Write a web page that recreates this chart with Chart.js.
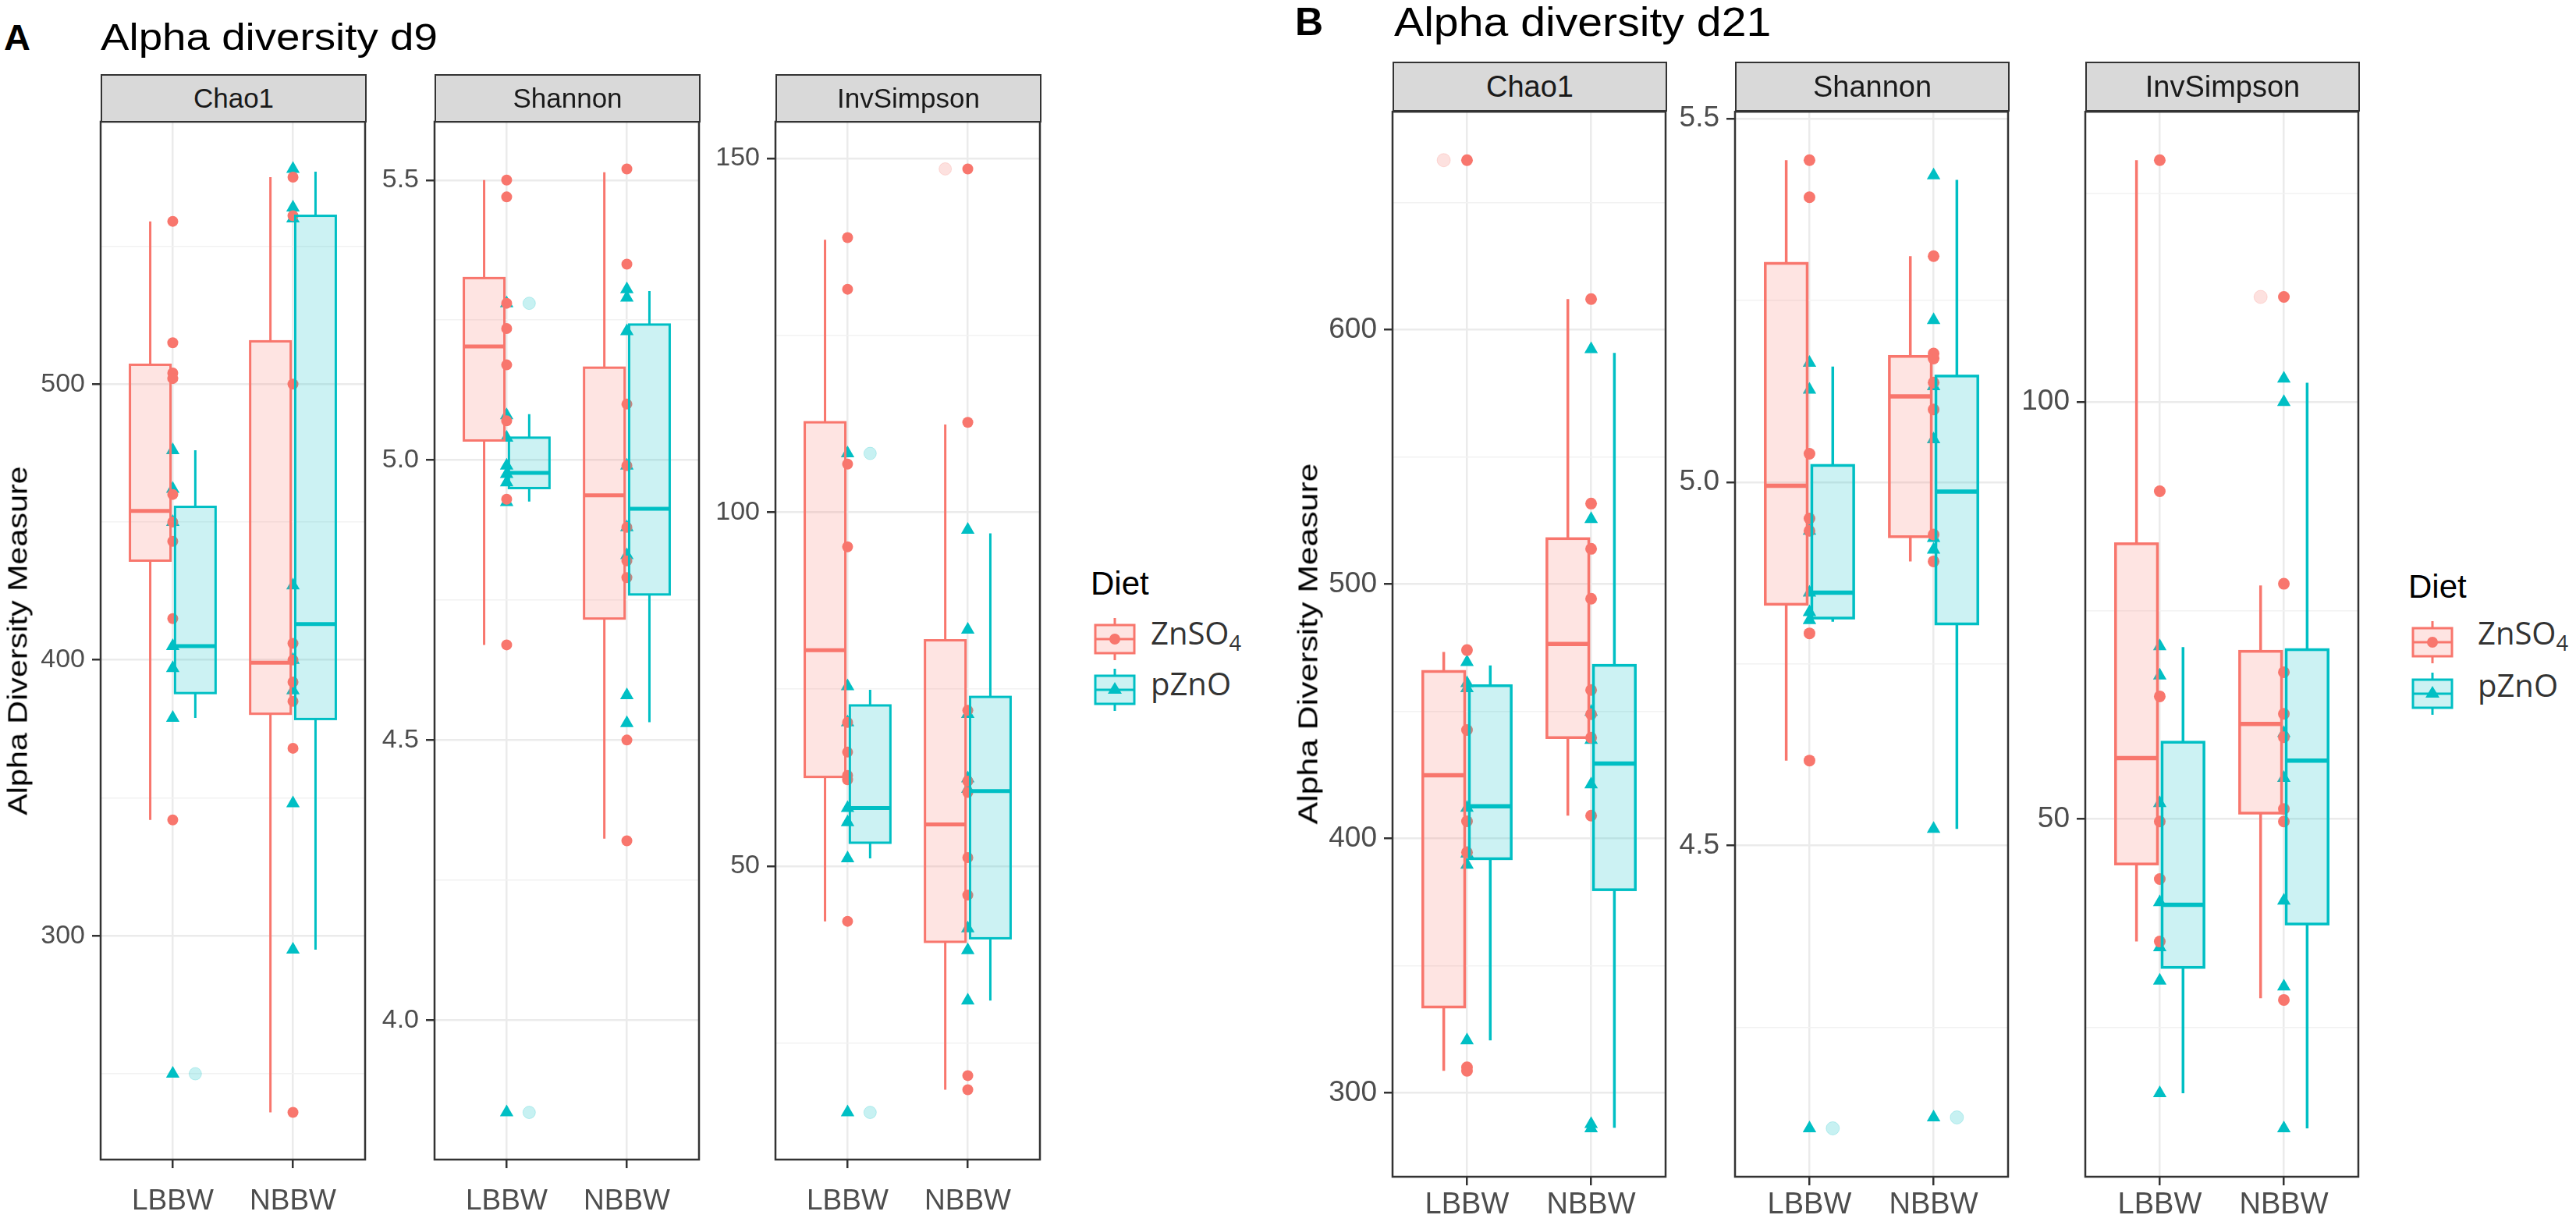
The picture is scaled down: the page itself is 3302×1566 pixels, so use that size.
<!DOCTYPE html>
<html>
<head>
<meta charset="utf-8">
<script src="https://cdn.jsdelivr.net/npm/chart.js@4.4.1/dist/chart.umd.min.js"></script>
<style>
  body { margin: 0; width: 3302px; height: 1566px; background: #fff; position: relative; overflow: hidden;
         font-family: "Liberation Sans", Arial, Helvetica, sans-serif; }
  canvas { position: absolute; }
  .txt { position: absolute; white-space: nowrap; line-height: 1; z-index: 5; transform-origin: 0 0; }
  .strip { position: absolute; box-sizing: border-box; background: #D9D9D9; border: 2.5px solid #333;
           color: #1A1A1A; display: flex; align-items: center; justify-content: center; z-index: 4; }
  .ytitle { position: absolute; white-space: nowrap; line-height: 1; color: #000; z-index: 5; }
  .leg { position: absolute; white-space: nowrap; line-height: 1; color: #333; font-family: "Open Sans", sans-serif; font-size: 40px; z-index: 5; }
  .leg sub { font-size: 0.68em; vertical-align: -0.3em; }
</style>
</head>
<body>
<script>
// ——————————————————————————————
// data
// ——————————————————————————————
const groups = ["LBBW", "NBBW"];
const diets = ["ZnSO4", "pZnO"];
const measures = ["Chao1", "Shannon", "InvSimpson"];

// points: [diet][group] -> values
const d9Chao1 = [
  [[559, 515, 504, 502, 460, 450, 443, 415, 342], [575, 561, 500, 406, 400, 392, 385, 368, 236]],
  [[476, 462, 450, 405, 397, 379, 250], [578, 564, 560, 427, 400, 389, 348, 295]]
];
const d9Shannon = [
  [[5.50, 5.47, 5.28, 5.235, 5.17, 5.07, 4.93, 4.67], [5.52, 5.35, 5.10, 4.99, 4.88, 4.82, 4.79, 4.50, 4.32]],
  [[5.28, 5.08, 5.04, 4.99, 4.975, 4.96, 4.925, 3.835], [5.305, 5.29, 5.23, 4.99, 4.88, 4.83, 4.58, 4.53]]
];
const d9InvSimpson = [
  [[138.8, 131.5, 106.8, 95.1, 70.3, 66.1, 62.8, 62.2, 42.2], [148.5, 112.7, 72.0, 62.0, 60.4, 51.2, 45.9, 20.4, 18.4]],
  [[108.3, 75.4, 70.3, 58.2, 56.2, 51.1, 15.2], [97.5, 83.4, 71.5, 62.4, 60.9, 41.2, 38.1, 31.0]]
];
const d21Chao1 = [
  [[666.6, 474, 442.6, 406.7, 394.5, 310, 308.6], [612, 531.6, 513.8, 494.2, 458.3, 448.8, 439.6, 408.9]],
  [[469.3, 461, 459, 412, 394, 389.6, 320.6], [592.3, 525.5, 449.7, 438.7, 421.2, 287.7, 286]]
];
const d21Shannon = [
  [[5.443, 5.392, 5.039, 4.95, 4.933, 4.792, 4.617], [5.311, 5.177, 5.17, 5.137, 5.1, 4.928, 4.891]],
  [[5.164, 5.127, 4.933, 4.848, 4.821, 4.81, 4.111], [5.422, 5.223, 5.132, 5.059, 4.923, 4.907, 4.523, 4.126]]
];
const d21InvSimpson = [
  [[129, 89.3, 64.7, 49.7, 42.8, 35.3], [112.6, 78.2, 67.6, 62.6, 59.8, 51.2, 49.7, 28.3]],
  [[70.7, 67.2, 51.9, 40, 34.6, 30.6, 17.1], [102.8, 100, 60.3, 54.9, 40.2, 29.9, 12.9]]
];

// boxes: [diet][group] -> [lower whisker, Q1, median, Q3, upper whisker]
const d9Chao1Box = [
  [[342, 436, 454, 507, 559], [236, 380.5, 399, 515.5, 575]],
  [[379, 388, 405, 455.5, 476], [295, 378.6, 413, 561, 577]]
];
const d9ShannonBox = [
  [[4.67, 5.035, 5.203, 5.325, 5.50], [4.324, 4.717, 4.937, 5.165, 5.514]],
  [[4.926, 4.95, 4.977, 5.04, 5.082], [4.532, 4.76, 4.913, 5.242, 5.302]]
];
const d9InvSimpsonBox = [
  [[42.2, 62.6, 80.5, 112.7, 138.5], [18.4, 39.3, 55.9, 81.9, 112.4]],
  [[51.1, 53.3, 58.2, 72.7, 74.9], [31, 39.8, 60.6, 73.9, 97]]
];
const d21Chao1Box = [
  [[308.6, 333.7, 424.8, 465.6, 473.3], [408.9, 439.6, 476.4, 517.8, 612]],
  [[320.6, 392, 412.6, 460, 468], [286.2, 379.8, 429.4, 468, 590.8]]
];
const d21ShannonBox = [
  [[4.617, 4.832, 4.995, 5.301, 5.443], [4.891, 4.925, 5.118, 5.173, 5.311]],
  [[4.808, 4.813, 4.848, 5.023, 5.159], [4.523, 4.805, 4.987, 5.146, 5.416]]
];
const d21InvSimpsonBox = [
  [[35.3, 44.6, 57.3, 83, 129], [28.5, 50.7, 61.4, 70.1, 78]],
  [[17.1, 32.2, 39.7, 59.2, 70.6], [12.9, 37.4, 57, 70.3, 102.3]]
];

// boxplot outliers: [diet][group]
const d9Chao1Out = [[[], []], [[250], []]];
const d9ShannonOut = [[[], []], [[5.28, 3.835], []]];
const d9InvSimpsonOut = [[[], [148.5]], [[108.3, 15.2], []]];
const d21Chao1Out = [[[666.6], []], [[], []]];
const d21ShannonOut = [[[], []], [[4.111], [4.126]]];
const d21InvSimpsonOut = [[[], [112.6]], [[], []]];

// y tick labels
const d9Chao1Ticks = ["300", "400", "500"];
const d9ShannonTicks = ["4.0", "4.5", "5.0", "5.5"];
const d9InvSimpsonTicks = ["50", "100", "150"];
const d21Chao1Ticks = ["300", "400", "500", "600"];
const d21ShannonTicks = ["4.5", "5.0", "5.5"];
const d21InvSimpsonTicks = ["50", "100"];

// ——————————————————————————————
// look
// ——————————————————————————————
const colors = ["#F8766D", "#00BFC4"];
const fills = ["rgba(248,118,109,0.2)", "rgba(0,191,196,0.2)"];
const outFills = ["rgba(248,118,109,0.22)", "rgba(0,191,196,0.22)"];
const boxW = 0.3375, dodge = [-0.1875, 0.1875];
const FONT = "'Liberation Sans', Arial, Helvetica, sans-serif";
const YW = 110, PADT = 30, PADR = 8, XH = 80;

const panelA = { lefts: [129, 557, 994], top: 156, h: 1330, w: 341, stripH: 62,
  tick: 34, xTick: 37, strip: 35, xPad: 21, dot: 7, tri: 10, lw: 3, med: 5 };
const panelB = { lefts: [1785, 2224, 2673], top: 142, h: 1366, w: 352, stripH: 64,
  tick: 37, xTick: 38, strip: 38, xPad: 3, dot: 7.5, tri: 10, lw: 3.5, med: 5.5 };

function addText(cls, html, x, y, css) {
  const d = document.createElement("div");
  d.className = cls;
  d.innerHTML = html;
  d.style.left = x + "px";
  d.style.top = y + "px";
  Object.assign(d.style, css || {});
  document.body.appendChild(d);
  return d;
}

function yRange(pts) {
  const all = pts.flat(2);
  const lo = Math.min(...all), hi = Math.max(...all), pad = (hi - lo) * 0.05;
  return [lo - pad, hi + pad];
}

function boxPlugin(box, P) {
  return {
    id: "boxes",
    afterDatasetsDraw(chart) {
      const { ctx, scales: { x, y } } = chart;
      box.forEach((diet, di) => {
        diet.forEach((s, gi) => {
          const cx = gi + 1 + dodge[di];
          const x0 = x.getPixelForValue(cx - boxW / 2), x1 = x.getPixelForValue(cx + boxW / 2);
          const xm = x.getPixelForValue(cx);
          const [lo, q1, md, q3, hi] = s.map(v => y.getPixelForValue(v));
          ctx.save();
          ctx.strokeStyle = colors[di];
          ctx.lineWidth = P.lw;
          ctx.beginPath();
          ctx.moveTo(xm, hi); ctx.lineTo(xm, q3);
          ctx.moveTo(xm, q1); ctx.lineTo(xm, lo);
          ctx.stroke();
          ctx.fillStyle = fills[di];
          ctx.fillRect(x0, q3, x1 - x0, q1 - q3);
          ctx.strokeRect(x0, q3, x1 - x0, q1 - q3);
          ctx.lineWidth = P.med;
          ctx.beginPath();
          ctx.moveTo(x0, md); ctx.lineTo(x1, md);
          ctx.stroke();
          ctx.restore();
        });
      });
    }
  };
}

const borderPlugin = {
  id: "panelBorder",
  afterDraw(chart) {
    const { ctx, chartArea: a } = chart;
    ctx.save();
    ctx.strokeStyle = "#333333";
    ctx.lineWidth = 2.5;
    ctx.strokeRect(a.left, a.top, a.right - a.left, a.bottom - a.top);
    ctx.restore();
  }
};

function drawFacet(P, i, pts, box, out, tickLabels) {
  const left = P.lefts[i];
  // strip
  const st = addText("strip", measures[i], left, P.top - P.stripH + 1.25,
    { width: P.w + "px", height: P.stripH + "px", fontSize: P.strip + "px" });
  st.className = "strip";

  const cv = document.createElement("canvas");
  const cw = YW + P.w + PADR, ch = PADT + P.h + XH;
  cv.width = cw; cv.height = ch;
  cv.style.left = (left - YW) + "px";
  cv.style.top = (P.top - PADT) + "px";
  cv.style.width = cw + "px";
  cv.style.height = ch + "px";
  document.body.appendChild(cv);

  const majors = tickLabels.map(Number);
  const step = majors[1] - majors[0];
  const [ymin, ymax] = yRange(pts);
  const yticks = [];
  for (let k = -2; k <= majors.length * 2; k++) {
    const v = +(majors[0] + k * step / 2).toFixed(4);
    if (v >= ymin && v <= ymax) yticks.push(v);
  }
  const majorIdx = v => majors.findIndex(m => Math.abs(m - v) < step * 1e-3);

  const datasets = [];
  diets.forEach((d, di) => {
    datasets.push({
      label: d + " outlier",
      data: groups.flatMap((g, gi) => out[di][gi].map(v => ({ x: gi + 1 + dodge[di], y: v }))),
      pointStyle: "circle",
      pointRadius: P.dot + 1,
      backgroundColor: outFills[di],
      borderColor: outFills[di],
      borderWidth: 1
    });
  });
  diets.forEach((d, di) => {
    datasets.push({
      label: d,
      data: groups.flatMap((g, gi) => pts[di][gi].map(v => ({ x: gi + 1, y: v }))),
      pointStyle: di ? "triangle" : "circle",
      pointRadius: di ? P.tri : P.dot,
      backgroundColor: colors[di],
      borderWidth: 0
    });
  });

  new Chart(cv, {
    type: "scatter",
    data: { datasets },
    options: {
      responsive: false,
      animation: false,
      devicePixelRatio: 1,
      layout: { padding: { top: PADT, right: PADR, left: 0, bottom: 0 } },
      plugins: { legend: { display: false }, tooltip: { enabled: false } },
      scales: {
        x: {
          type: "linear", min: 0.4, max: 2.6,
          afterBuildTicks: s => { s.ticks = groups.map((g, gi) => ({ value: gi + 1 })); },
          afterFit: s => { s.height = XH; },
          ticks: {
            callback: v => groups[Math.round(v) - 1],
            color: "#4D4D4D", font: { family: FONT, size: P.xTick },
            padding: P.xPad, autoSkip: false, maxRotation: 0
          },
          grid: { color: "#EBEBEB", lineWidth: 2.5, tickLength: 11, tickColor: "#333333", tickWidth: 2.5 },
          border: { display: false }
        },
        y: {
          type: "linear", min: ymin, max: ymax,
          afterBuildTicks: s => { s.ticks = yticks.map(v => ({ value: v })); },
          afterFit: s => { s.width = YW; },
          ticks: {
            callback: v => { const k = majorIdx(v); return k < 0 ? "" : tickLabels[k]; },
            color: "#4D4D4D", font: { family: FONT, size: P.tick },
            padding: 9, autoSkip: false
          },
          grid: {
            color: c => (c.tick && majorIdx(c.tick.value) >= 0) ? "#EBEBEB" : "#F2F2F2",
            lineWidth: c => (c.tick && majorIdx(c.tick.value) >= 0) ? 2.5 : 1.5,
            tickColor: c => (c.tick && majorIdx(c.tick.value) >= 0) ? "#333333" : "rgba(0,0,0,0)",
            tickLength: 11, tickWidth: 2.5
          },
          border: { display: false }
        }
      }
    },
    plugins: [boxPlugin(box, P), borderPlugin]
  });
}

function drawKey(x, y, di) {
  const c = document.createElement("canvas");
  c.width = 54; c.height = 54;
  c.style.left = x + "px"; c.style.top = y + "px";
  c.style.zIndex = 5;
  document.body.appendChild(c);
  const g = c.getContext("2d");
  g.strokeStyle = colors[di];
  g.lineWidth = 3;
  g.beginPath();
  g.moveTo(27, 0); g.lineTo(27, 9);
  g.moveTo(27, 45); g.lineTo(27, 54);
  g.stroke();
  g.fillStyle = fills[di];
  g.fillRect(2, 9, 50, 36);
  g.strokeRect(2, 9, 50, 36);
  g.beginPath(); g.moveTo(2, 27); g.lineTo(52, 27); g.stroke();
  g.fillStyle = colors[di];
  g.beginPath();
  if (di === 0) {
    g.arc(27, 27, 7, 0, Math.PI * 2);
  } else {
    g.moveTo(27, 17); g.lineTo(36, 32); g.lineTo(18, 32); g.closePath();
  }
  g.fill();
}

function drawLegend(dx, dietY, keyX, keyY, labX, labY) {
  addText("txt", "Diet", dx, dietY, { fontSize: "42px", color: "#000" });
  drawKey(keyX, keyY[0], 0);
  drawKey(keyX, keyY[1], 1);
  addText("leg", "ZnSO<sub>4</sub>", labX, labY[0]);
  addText("leg", "pZnO", labX, labY[1]);
}

// ——————————————————————————————
// panel A: d9
// ——————————————————————————————
addText("txt", "A", 5, 24, { fontSize: "47px", fontWeight: "bold", color: "#000" });
addText("txt", "Alpha diversity d9", 129, 24, { fontSize: "48px", color: "#000", transform: "scaleX(1.14)" });
addText("ytitle", "Alpha Diversity Measure", 22, 821,
  { fontSize: "35px", transform: "translate(-50%,-50%) rotate(-90deg) scaleX(1.18)" });
drawFacet(panelA, 0, d9Chao1, d9Chao1Box, d9Chao1Out, d9Chao1Ticks);
drawFacet(panelA, 1, d9Shannon, d9ShannonBox, d9ShannonOut, d9ShannonTicks);
drawFacet(panelA, 2, d9InvSimpson, d9InvSimpsonBox, d9InvSimpsonOut, d9InvSimpsonTicks);
drawLegend(1398, 727, 1402, [792, 857], 1475, [791, 856]);

// ——————————————————————————————
// panel B: d21
// ——————————————————————————————
addText("txt", "B", 1660, 3, { fontSize: "50px", fontWeight: "bold", color: "#000" });
addText("txt", "Alpha diversity d21", 1787, 2, { fontSize: "52px", color: "#000", transform: "scaleX(1.1)" });
addText("ytitle", "Alpha Diversity Measure", 1676, 825,
  { fontSize: "35px", transform: "translate(-50%,-50%) rotate(-90deg) scaleX(1.22)" });
drawFacet(panelB, 0, d21Chao1, d21Chao1Box, d21Chao1Out, d21Chao1Ticks);
drawFacet(panelB, 1, d21Shannon, d21ShannonBox, d21ShannonOut, d21ShannonTicks);
drawFacet(panelB, 2, d21InvSimpson, d21InvSimpsonBox, d21InvSimpsonOut, d21InvSimpsonTicks);
drawLegend(3087, 731, 3091, [796, 862], 3176, [791, 858]);
</script>
</body>
</html>
